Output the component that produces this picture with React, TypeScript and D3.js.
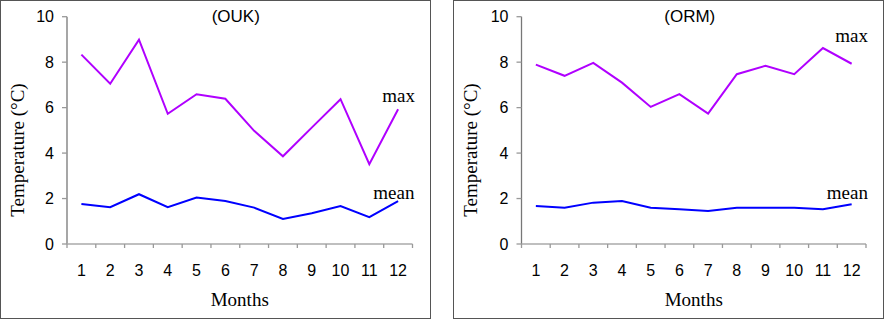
import * as d3 from "d3";

const months = ["1", "2", "3", "4", "5", "6", "7", "8", "9", "10", "11", "12"];
const yTicks = [0, 2, 4, 6, 8, 10];

const oukMax = [8.33, 7.05, 8.99, 5.73, 6.59, 6.39, 4.98, 3.86, 5.12, 6.37, 3.51, 5.93];
const oukMean = [1.76, 1.62, 2.19, 1.62, 2.04, 1.89, 1.6, 1.1, 1.35, 1.67, 1.18, 1.89];
const ormMax = [7.89, 7.4, 7.97, 7.1, 6.03, 6.59, 5.74, 7.47, 7.84, 7.47, 8.62, 7.93];
const ormMean = [1.67, 1.6, 1.82, 1.89, 1.6, 1.53, 1.45, 1.6, 1.6, 1.6, 1.53, 1.75];

const panels = [
  { title: "(OUK)", max: oukMax, mean: oukMean, left: 0, right: 430, x0: 67, x1: 412.5, maxLabelY: 102 },
  { title: "(ORM)", max: ormMax, mean: ormMean, left: 453, right: 883, x0: 521.5, x1: 866, maxLabelY: 42 },
];

const serif = "'Liberation Serif', 'Times New Roman', serif";
const sans = "'Liberation Sans', Arial, sans-serif";

function Panel({ p }: { p: (typeof panels)[number] }) {
  const x = d3.scaleBand().domain(months).range([p.x0, p.x1]);
  const y = d3.scaleLinear().domain([0, 10]).range([244, 16.7]);
  const line = d3
    .line<number>()
    .x((_, i) => x(months[i])! + x.bandwidth() / 2)
    .y((d) => y(d));
  const tickXs = months.map((m) => x(m)!).concat([p.x1]);
  const cx = (p.x0 + p.x1) / 2;
  return (
    <g>
      <rect x={p.left + 0.5} y={0.5} width={p.right - p.left} height={318} fill="white" stroke="#555" strokeWidth={1} />
      {/* y axis */}
      <line x1={p.x0} x2={p.x0} y1={y(10)} y2={y(0)} stroke="#777" strokeWidth={1.3} />
      {yTicks.map((t) => (
        <g key={t}>
          <line x1={p.x0 - 5} x2={p.x0} y1={y(t)} y2={y(t)} stroke="#999" strokeWidth={1.3} />
          <text x={p.x0 - 13} y={y(t)} dy="0.36em" textAnchor="end" fontFamily={sans} fontSize={16}>
            {t}
          </text>
        </g>
      ))}
      {/* x axis */}
      <line x1={p.x0} x2={p.x1} y1={y(0)} y2={y(0)} stroke="#aaa" strokeWidth={1.6} />
      {tickXs.map((tx, i) => (
        <line key={i} x1={tx} x2={tx} y1={y(0)} y2={y(0) + 4} stroke="#999" strokeWidth={1.3} />
      ))}
      {months.map((m) => (
        <text key={m} x={x(m)! + x.bandwidth() / 2} y={276} textAnchor="middle" fontFamily={sans} fontSize={16}>
          {m}
        </text>
      ))}
      <text x={cx} y={306} textAnchor="middle" fontFamily={serif} fontSize={19}>
        Months
      </text>
      <text
        transform={`translate(${p.left + 24},150) rotate(-90)`}
        textAnchor="middle"
        fontFamily={serif}
        fontSize={19}
      >
        Temperature (°C)
      </text>
      <text x={cx - 4} y={22} textAnchor="middle" fontFamily={sans} fontSize={17}>
        {p.title}
      </text>
      <path d={line(p.max)!} fill="none" stroke="#b000ff" strokeWidth={2} />
      <path d={line(p.mean)!} fill="none" stroke="#0000ff" strokeWidth={2} />
      <text x={p.right - 15} y={p.maxLabelY} textAnchor="end" fontFamily={serif} fontSize={19}>
        max
      </text>
      <text x={p.x1 + 2} y={199} textAnchor="end" fontFamily={serif} fontSize={19}>
        mean
      </text>
    </g>
  );
}

export default function App() {
  return (
    <svg
      width={885}
      height={320}
      style={{ position: "absolute", left: 0, top: 0, background: "white" }}
    >
      {panels.map((p) => (
        <Panel key={p.title} p={p} />
      ))}
    </svg>
  );
}
